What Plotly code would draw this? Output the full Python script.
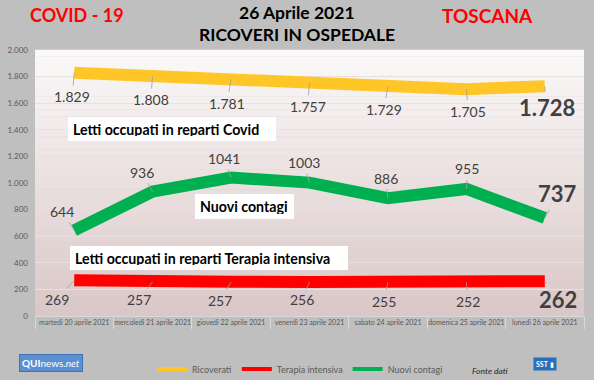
import plotly.graph_objects as go

# ---------------- data ----------------
categories = [
    "martedì 20 aprile 2021",
    "mercoledì 21 aprile 2021",
    "giovedì 22 aprile 2021",
    "venerdì 23 aprile 2021",
    "sabato 24 aprile 2021",
    "domenica 25 aprile 2021",
    "lunedì 26 aprile 2021",
]
ricoverati = [1829, 1808, 1781, 1757, 1729, 1705, 1728]
terapia_intensiva = [269, 257, 257, 256, 255, 252, 262]
nuovi_contagi = [644, 936, 1041, 1003, 886, 955, 737]
y_tick_values = [0, 200, 400, 600, 800, 1000, 1200, 1400, 1600, 1800, 2000]
y_tick_labels = ["0", "200", "400", "600", "800", "1.000", "1.200", "1.400", "1.600", "1.800", "2.000"]
series_names = ["Ricoverati", "Terapia intensiva", "Nuovi contagi"]

# ---------------- style ----------------
FONT = "Lato"
YELLOW = "#FFC628"
RED = "#FF0000"
GREEN = "#00B050"
LABEL_COLOR = "#404040"
W, H = 594, 380
L, R, T, B = 35, 584, 50, 316
PW, PH = R - L, B - T


def px(x):
    return (x - L) / PW


def py(y):
    return (B - y) / PH


def dotted(v):
    return f"{v:,}".replace(",", ".")


# label offsets (pixels) relative to each point
yellow_dx = [-2, -2, -4, -2, -4, 2, 2]
yellow_dy = [24, 24, 24, 24, 23, 22, 21]
green_dx = [-12, -11, -7, -6, -2, 1, 13]
green_dy = [-19, -19, -19, -20, -20, -20, -24]
red_dx = [-17, -14, -11, -8, -4, 2, 13]
red_dy = [19, 18, 19, 18, 19, 19, 18]

fig = go.Figure()

for name, vals, color in [
    (series_names[0], ricoverati, YELLOW),
    (series_names[1], terapia_intensiva, RED),
    (series_names[2], nuovi_contagi, GREEN),
]:
    fig.add_trace(go.Scatter(
        x=categories, y=vals, mode="lines", name=name,
        line=dict(color=color, width=12), showlegend=False, hoverinfo="x+y",
    ))

# legend-only entries
for name, color in zip(series_names, [YELLOW, RED, GREEN]):
    fig.add_trace(go.Scatter(
        x=[None], y=[None], mode="lines", name=name,
        line=dict(color=color, width=4), showlegend=True,
    ))

annotations = []


def add_labels(vals, texts, dxs, dys, last_big):
    n = len(vals)
    for i, (v, t) in enumerate(zip(vals, texts)):
        big = last_big and i == n - 1
        annotations.append(dict(
            x=categories[i], y=v, xref="x", yref="y",
            text=f"<b>{t}</b>" if big else t,
            showarrow=True, ax=dxs[i], ay=dys[i],
            arrowhead=0, arrowwidth=0.8, arrowcolor="#a0a0a0",
            standoff=0, startstandoff=1,
            font=dict(family=FONT, size=22 if big else 14, color=LABEL_COLOR),
        ))


add_labels(ricoverati, [dotted(v) for v in ricoverati], yellow_dx, yellow_dy, True)
add_labels(nuovi_contagi, [str(v) for v in nuovi_contagi], green_dx, green_dy, True)
add_labels(terapia_intensiva, [dotted(v) for v in terapia_intensiva], red_dx, red_dy, True)

# text boxes
for text, x0, x1, y0, y1 in [
    ("Letti occupati in reparti Covid", 68, 280, 117, 141),
    ("Nuovi contagi", 195, 298, 194, 219),
    ("Letti occupati in reparti Terapia intensiva", 70, 352, 246, 270),
]:
    annotations.append(dict(
        x=px(x0), y=py(y0), xref="paper", yref="paper",
        xanchor="left", yanchor="top", showarrow=False,
        text=f"<b>{text}</b>", align="left",
        width=(x1 - x0) - 14, height=(y1 - y0) - 10, borderpad=5,
        bgcolor="white", bordercolor="#e6e6e6", borderwidth=0,
        font=dict(family=FONT, size=14.2, color="#000000"),
    ))

# titles
for text, x, y, color, size in [
    ("COVID - 19", 77, 15, "#FF0000", 18),
    ("26 Aprile 2021", 297, 13, "#000000", 17.5),
    ("RICOVERI IN OSPEDALE", 297, 34, "#000000", 17.5),
    ("TOSCANA", 487, 15, "#FF0000", 19),
]:
    annotations.append(dict(
        x=px(x), y=py(y), xref="paper", yref="paper",
        xanchor="center", yanchor="middle", showarrow=False,
        text=f"<b>{text}</b>", font=dict(family=FONT, size=size, color=color),
    ))

# footer: source and logos
annotations.append(dict(
    x=px(490), y=py(371), xref="paper", yref="paper", showarrow=False,
    xanchor="center", yanchor="middle",
    text="<i>Fonte dati</i>", font=dict(family=FONT, size=8.5, color="#262626"),
))
annotations.append(dict(
    x=px(51), y=py(363), xref="paper", yref="paper", showarrow=False,
    xanchor="center", yanchor="middle",
    text="<b>QUI</b>news<i>.net</i>", bgcolor="#5b8fd0", bordercolor="#3f72b5",
    borderwidth=1, borderpad=2,
    font=dict(family=FONT, size=10, color="white"),
))
annotations.append(dict(
    x=px(545), y=py(364), xref="paper", yref="paper", showarrow=False,
    xanchor="center", yanchor="middle",
    text="<b>SST</b> ▮", bgcolor="#2a6ebb", borderpad=2,
    font=dict(family=FONT, size=7, color="white"),
))

# plot-area gradient background
shapes = []
N = 40
top_c = (251, 249, 249)
bot_c = (218, 199, 199)
for k in range(N):
    f = (k + 0.5) / N
    c = tuple(int(round(top_c[j] + (bot_c[j] - top_c[j]) * f)) for j in range(3))
    shapes.append(dict(
        type="rect", xref="paper", yref="paper",
        x0=0, x1=1, y0=1 - (k + 1) / N, y1=1 - k / N + 0.001,
        fillcolor=f"rgb{c}", line=dict(width=0), layer="below",
    ))

fig.update_layout(
    width=W, height=H,
    margin=dict(l=L, r=W - R, t=T, b=H - B, pad=0, autoexpand=False),
    paper_bgcolor="#bfbfbf",
    plot_bgcolor="rgba(0,0,0,0)",
    font=dict(family=FONT, color="#595959"),
    shapes=shapes,
    annotations=annotations,
    showlegend=True,
    legend=dict(
        orientation="h", x=px(300), xanchor="center", y=py(369), yanchor="middle",
        font=dict(family=FONT, size=9, color="#595959"),
        bgcolor="rgba(0,0,0,0)", itemwidth=30, tracegroupgap=0,
    ),
    xaxis=dict(
        type="category", range=[-0.5, 6.5], tickson="boundaries",
        ticks="outside", ticklen=12, tickcolor="#d9d9d9", tickwidth=1,
        showline=True, linecolor="#d9d9d9", linewidth=1, tickangle=0,
        automargin=False,
        showgrid=False, tickfont=dict(family=FONT, size=7, color="#595959"),
        fixedrange=True,
    ),
    yaxis=dict(
        range=[0, 2000], tickvals=y_tick_values, ticktext=y_tick_labels,
        showgrid=True, gridcolor="#e8dfdf", gridwidth=1, zeroline=False,
        showline=False, ticks="", ticklabelstandoff=6, automargin=False,
        tickfont=dict(family=FONT, size=8, color="#595959"),
        fixedrange=True,
    ),
)

fig.write_html(
    "out.html",
    config={"displayModeBar": False},
    post_script="document.body.style.margin='0';document.body.style.overflow='hidden';",
)
